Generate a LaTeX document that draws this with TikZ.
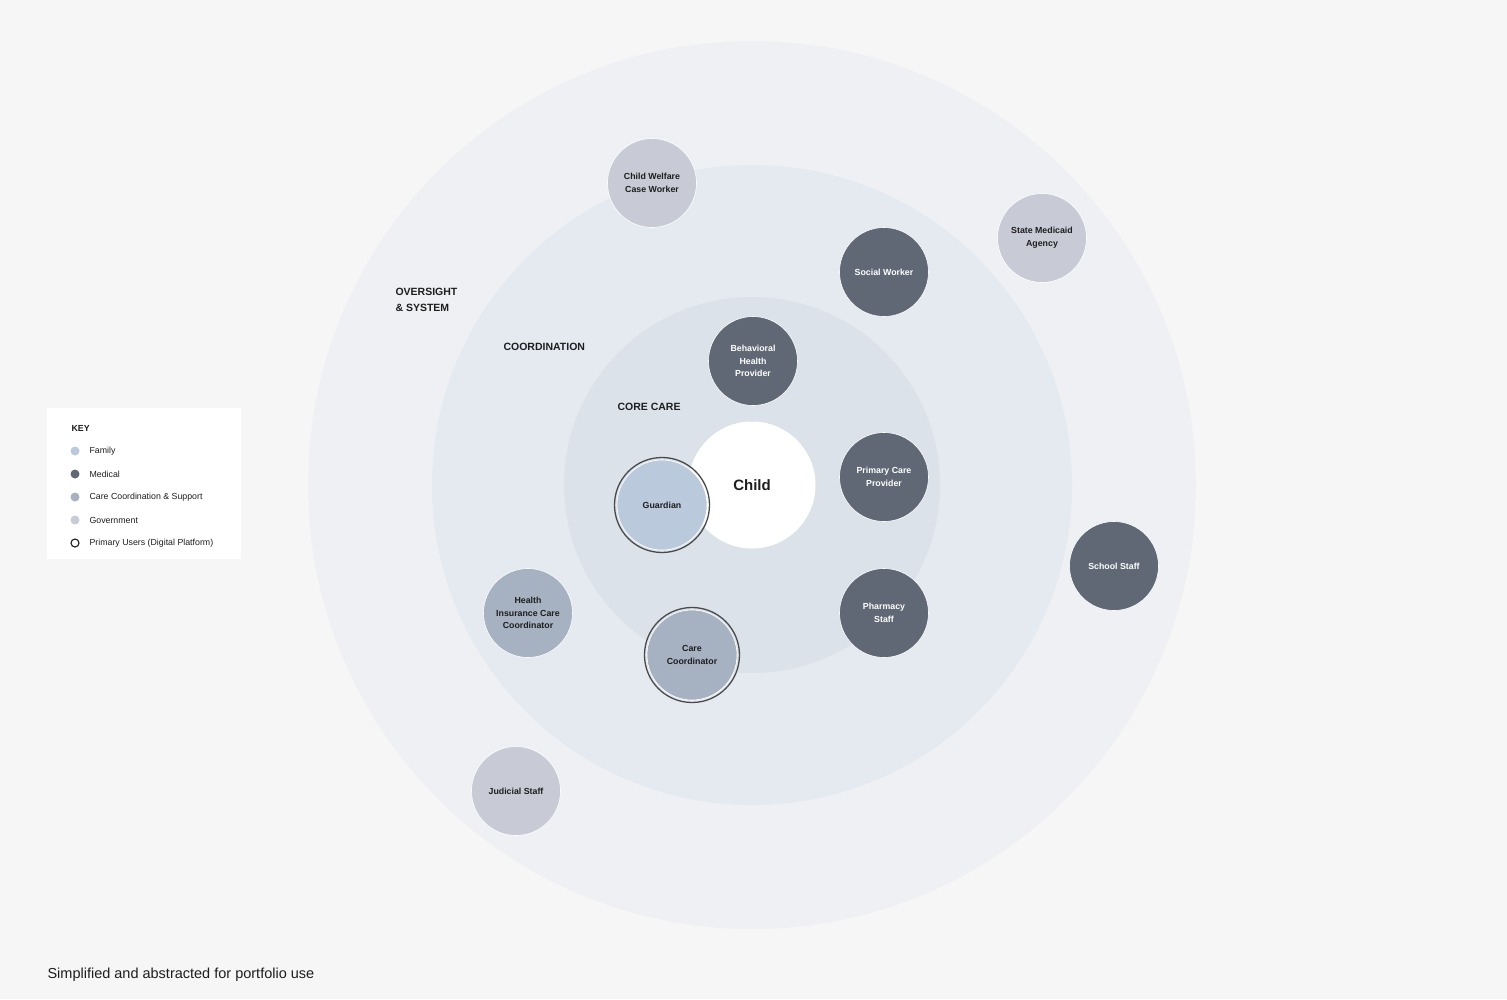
\documentclass[tikz,border=0pt]{standalone}
\usepackage{fontspec}
\setmainfont{Liberation Sans}
\begin{document}
\begin{tikzpicture}[x=1pt,y=-1pt]
\definecolor{bg}{HTML}{F6F6F6}
\definecolor{ringA}{HTML}{EEF0F3}
\definecolor{ringB}{HTML}{E5E9F0}
\definecolor{ringC}{HTML}{DCE2EA}
\definecolor{famC}{HTML}{BAC9DB}
\definecolor{medC}{HTML}{5F6874}
\definecolor{ccsC}{HTML}{A6B1C1}
\definecolor{govC}{HTML}{C8CAD5}
\definecolor{txtC}{HTML}{1E1E1E}
\definecolor{ringLine}{HTML}{4A4A4A}
\tikzset{
  actor/.style={circle, minimum size=89pt, inner sep=0pt, draw=white, line width=0.6pt,
    align=center, font=\fontsize{8.8}{12.8}\selectfont\bfseries, text=txtC},
  family/.style={actor, fill=famC},
  medical/.style={actor, fill=medC, text=white},
  ccs/.style={actor, fill=ccsC},
  gov/.style={actor, fill=govC},
  primaryring/.style={circle, minimum size=95pt, inner sep=0pt, draw=ringLine, line width=1.3pt},
  zone/.style={font=\fontsize{10.5}{16}\selectfont\bfseries, text=txtC, anchor=west, align=left},
  keydot/.style={circle, minimum size=9pt, inner sep=0pt},
  keytxt/.style={font=\fontsize{8.8}{10}\selectfont, text=txtC, anchor=west}
}
\fill[bg] (0,0) rectangle (1507,999);
\useasboundingbox (0,0) rectangle (1507,999);
% rings
\fill[ringA] (752,485) circle (444);
\fill[ringB] (752,485) circle (320);
\fill[ringC] (752,485) circle (188);
\node[circle, fill=white, minimum size=127pt, inner sep=0pt, font=\fontsize{15}{16}\selectfont\bfseries, text=txtC] (child) at (752,485) {Child};
% zone labels
\node[zone] (zoneA) at (392,300) {OVERSIGHT\\\& SYSTEM};
\node[zone] (zoneB) at (500,347) {COORDINATION};
\node[zone] (zoneC) at (614,407) {CORE CARE};
% actors
\node[gov] (cwcw) at (652,183) {Child Welfare\\Case Worker};
\node[gov] (sma) at (1042,238) {State Medicaid\\Agency};
\node[medical] (sw) at (884,272) {Social Worker};
\node[medical] (bhp) at (753,361) {Behavioral\\Health\\Provider};
\node[medical] (pcp) at (884,477) {Primary Care\\Provider};
\node[primaryring] (guardring) at (662,505) {};
\node[family, minimum size=90pt] (guardian) at (662,505) {Guardian};
\node[medical] (school) at (1114,566) {School Staff};
\node[medical] (pharm) at (884,613) {Pharmacy\\Staff};
\node[ccs] (hicc) at (528,613) {Health\\Insurance Care\\Coordinator};
\node[primaryring] (ccring) at (692,655) {};
\node[ccs, minimum size=90pt] (cc) at (692,655) {Care\\Coordinator};
\node[gov] (judicial) at (516,791) {Judicial Staff};
% key
\node[fill=white, minimum width=194pt, minimum height=151pt, inner sep=0pt, anchor=north west] (keybox) at (47,408) {};
\node[font=\fontsize{8.8}{10}\selectfont\bfseries, text=txtC, anchor=west] (keytitle) at (68,428) {KEY};
\node[keydot, fill=famC] (k1) at (75,451) {};
\node[keytxt] (k1t) at (86,451) {Family};
\node[keydot, fill=medC] (k2) at (75,474) {};
\node[keytxt] (k2t) at (86,474) {Medical};
\node[keydot, fill=ccsC] (k3) at (75,497) {};
\node[keytxt] (k3t) at (86,497) {Care Coordination \& Support};
\node[keydot, fill=govC] (k4) at (75,520) {};
\node[keytxt] (k4t) at (86,520) {Government};
\node[keydot, draw=txtC, line width=1.1pt, minimum size=8pt] (k5) at (75,543) {};
\node[keytxt] (k5t) at (86,543) {Primary Users (Digital Platform)};
% footer
\node[font=\fontsize{14.5}{16}\selectfont, text=txtC, anchor=west] (footer) at (44,975) {Simplified and abstracted for portfolio use};
\end{tikzpicture}
\end{document}
